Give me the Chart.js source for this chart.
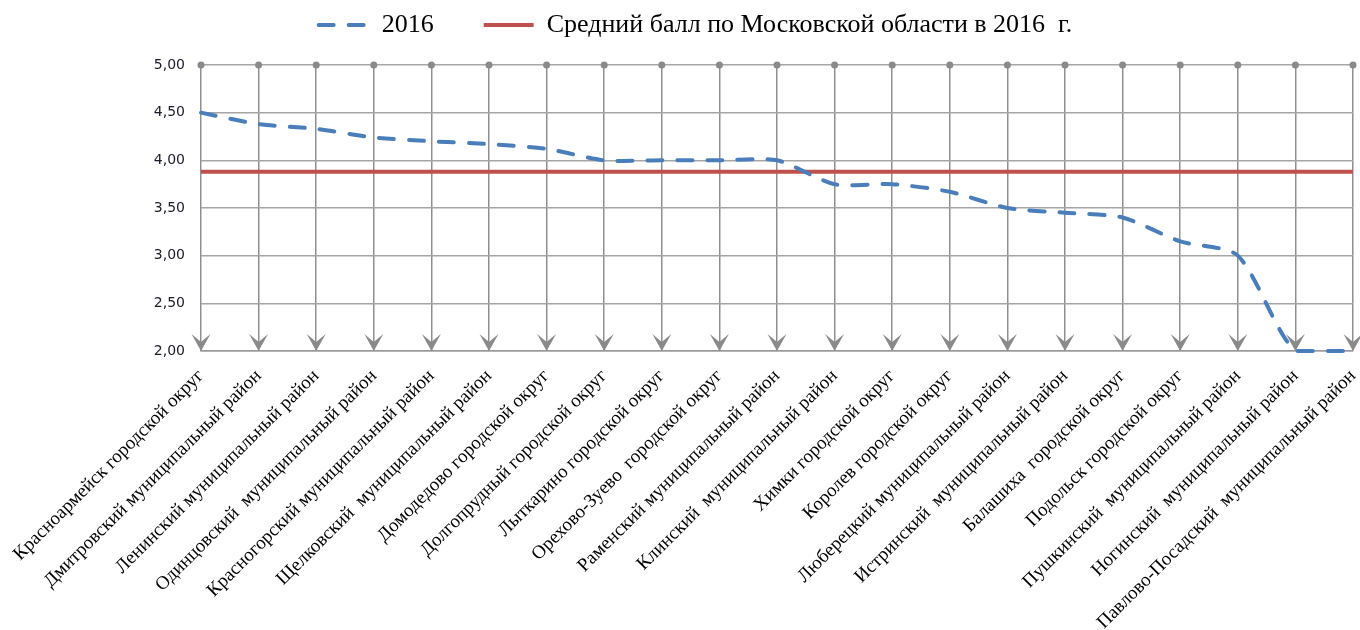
<!DOCTYPE html>
<html><head><meta charset="utf-8">
<script src="https://cdn.jsdelivr.net/npm/chart.js@4/dist/chart.umd.min.js"></script>
<style>html,body{margin:0;padding:0;background:#fff;} canvas{display:block;}</style>
</head><body>
<canvas id="c" width="1360" height="630"></canvas>
<script>
const categories = [
  'Красноармейск городской округ',
  'Дмитровский муниципальный район',
  'Ленинский муниципальный район',
  'Одинцовский  муниципальный район',
  'Красногорский муниципальный район',
  'Щелковский  муниципальный район',
  'Домодедово городской округ',
  'Долгопрудный городской округ',
  'Лыткарино городской округ',
  'Орехово-Зуево  городской округ',
  'Раменский муниципальный район',
  'Клинский  муниципальный район',
  'Химки городской округ',
  'Королев городской округ',
  'Люберецкий муниципальный район',
  'Истринский  муниципальный район',
  'Балашиха  городской округ',
  'Подольск городской округ',
  'Пушкинский  муниципальный район',
  'Ногинский  муниципальный район',
  'Павлово-Посадский  муниципальный район'
];
const scores2016 = [4.50, 4.38, 4.33, 4.24, 4.20, 4.17, 4.12, 4.00, 4.00, 4.00, 4.00,
                    3.75, 3.75, 3.67, 3.50, 3.45, 3.40, 3.15, 3.00, 2.00, 2.00];
const regionAverage = [3.88, 3.88, 3.88, 3.88, 3.88, 3.88, 3.88, 3.88, 3.88, 3.88, 3.88,
                       3.88, 3.88, 3.88, 3.88, 3.88, 3.88, 3.88, 3.88, 3.88, 3.88];
const seriesNames = ['2016', 'Средний балл по Московской области в 2016  г.'];
const yMin = 2, yMax = 5, yStep = 0.5;

const dropMarkers = {
  id: 'dropMarkers',
  beforeDatasetsDraw(chart) {
    const {ctx, chartArea, scales: {x}} = chart;
    ctx.save();
    ctx.fillStyle = '#8a8a8a';
    x.ticks.forEach((t, i) => {
      const px = x.getPixelForTick(i);
      ctx.beginPath();
      ctx.arc(px, chartArea.top, 3.5, 0, Math.PI * 2);
      ctx.fill();
      const tip = chartArea.bottom;
      ctx.beginPath();
      ctx.moveTo(px, tip);
      ctx.lineTo(px - 9.5, tip - 17);
      ctx.lineTo(px, tip - 9);
      ctx.lineTo(px + 9.5, tip - 17);
      ctx.closePath();
      ctx.fill();
    });
    ctx.restore();
  }
};

const legendShift = {
  id: 'legendShift',
  afterLayout(chart) {
    const l = chart.legend;
    if (!l) return;
    const h = l.height;
    l.top = l.top - 17;
    l.bottom = l.top + h;
  }
};

new Chart(document.getElementById('c'), {
  type: 'line',
  data: {
    labels: categories,
    datasets: [
      {
        label: seriesNames[0],
        data: scores2016,
        borderColor: '#4a7ebb',
        backgroundColor: '#4a7ebb',
        borderWidth: 4,
        borderDash: [15, 15],
        borderCapStyle: 'round',
        pointRadius: 0,
        tension: 0.25,
        clip: false,
        order: 0
      },
      {
        label: seriesNames[1],
        data: regionAverage,
        borderColor: '#c0504d',
        backgroundColor: '#c0504d',
        borderWidth: 4,
        borderDash: [],
        borderCapStyle: 'butt',
        pointRadius: 0,
        tension: 0,
        order: 1
      }
    ]
  },
  options: {
    responsive: false,
    animation: false,
    layout: { padding: { top: -55, right: 7, left: 38, bottom: 0 } },
    plugins: {
      legend: {
        position: 'top',
        labels: {
          usePointStyle: true,
          pointStyle: 'line',
          pointStyleWidth: 50,
          padding: 50,
          color: '#000',
          font: { family: '"Liberation Serif", "Times New Roman", serif', size: 26 },
          generateLabels(chart) {
            const items = Chart.defaults.plugins.legend.labels.generateLabels(chart);
            items.forEach((it, i) => {
              const ds = chart.data.datasets[i];
              it.lineDash = ds.borderDash || [];
              it.lineWidth = ds.borderWidth;
              it.strokeStyle = ds.borderColor;
              it.fillStyle = ds.borderColor;
              it.lineCap = ds.borderCapStyle || 'butt';
              it.pointStyle = 'line';
            });
            return items;
          }
        }
      },
      tooltip: { enabled: false }
    },
    scales: {
      x: {
        offset: false,
        grid: { color: '#8f8f8f', lineWidth: 1.5, drawTicks: false },
        border: { color: '#9a9a9a', width: 1.5 },
        ticks: {
          autoSkip: false,
          maxRotation: 45,
          minRotation: 45,
          padding: 14,
          color: '#000',
          font: { family: '"Liberation Serif", "Times New Roman", serif', size: 19 }
        },
        afterFit(scale) {
          scale.height = 279;
          scale.paddingLeft = 0;
          scale.paddingRight = 0;
        }
      },
      y: {
        min: yMin,
        max: yMax,
        grid: { color: '#a6a6a6', lineWidth: 1.5, drawTicks: false },
        border: { display: false },
        ticks: {
          stepSize: yStep,
          padding: 16,
          color: '#1a1a2a',
          font: { family: '"DejaVu Sans", Verdana, sans-serif', size: 14 },
          callback: (v) => Number(v).toFixed(2).replace('.', ',')
        },
        afterFit(scale) {
          scale.width = 163;
          scale.paddingTop = 65;
          scale.paddingBottom = 0;
        }
      }
    }
  },
  plugins: [dropMarkers, legendShift]
});
</script>
</body></html>
